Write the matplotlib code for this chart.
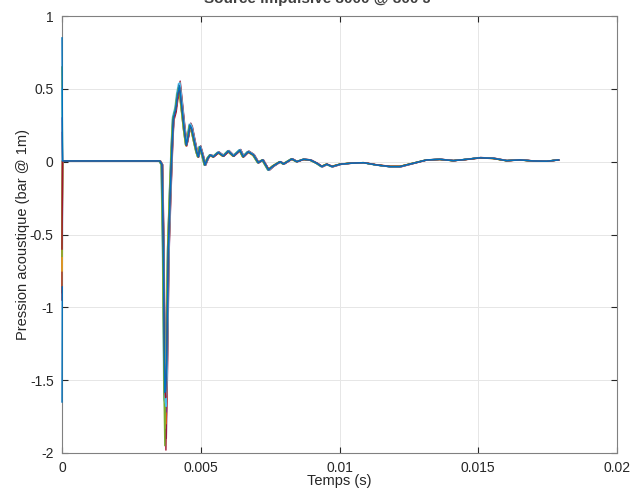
import numpy as np
import matplotlib
matplotlib.use("Agg")
import matplotlib.pyplot as plt

plt.rcParams['font.family'] = ['Liberation Sans', 'DejaVu Sans']

# base waveform (time in ms, pressure in bar @ 1m)
base_t = [0, 0.02, 1.0, 2.0, 3.0, 3.52, 3.60, 3.65, 3.70, 3.73, 3.77, 3.83, 3.90, 3.96,
          4.01, 4.10, 4.16, 4.23, 4.31, 4.40, 4.48, 4.55, 4.61, 4.67, 4.77, 4.85, 4.91,
          4.97, 5.06, 5.15, 5.25, 5.34, 5.45, 5.63, 5.81, 5.99, 6.18, 6.41, 6.53, 6.71,
          6.90, 7.07, 7.23, 7.44, 7.61, 7.86, 7.98, 8.28, 8.46, 8.70, 8.94, 9.18, 9.36,
          9.54, 9.73, 10.02, 10.38, 10.86, 11.34, 11.82, 12.18, 12.66, 13.14, 13.62,
          14.10, 14.58, 15.06, 15.54, 16.02, 16.50, 16.98, 17.46, 17.89]
base_p = [0.0, 0.005, 0.005, 0.005, 0.005, 0.005, -0.02, -0.6, -1.6, -1.8, -1.4, -0.6,
          -0.2, 0.1, 0.298, 0.366, 0.458, 0.527, 0.389, 0.229, 0.115, 0.183, 0.252,
          0.229, 0.137, 0.069, 0.034, 0.103, 0.046, -0.023, 0.023, 0.046, 0.034, 0.064,
          0.039, 0.073, 0.039, 0.080, 0.034, 0.069, 0.046, -0.007, 0.012, -0.057, -0.03,
          0.0, -0.016, 0.019, 0.0, 0.016, 0.012, -0.011, -0.034, -0.018, -0.034, -0.018,
          -0.011, -0.007, -0.023, -0.034, -0.034, -0.011, 0.012, 0.016, 0.007, 0.016,
          0.027, 0.023, 0.007, 0.012, 0.005, 0.003, 0.012]

# per-shot differences (first sample spike, trough depth, gain, small time lag in ms)
spikes = [-0.9, -0.7, 0.2, 0.65, -0.5, -0.95, -1.65, -0.85, -0.75, 0.3, -0.65, 0.5, -0.6, 0.85]
minima = [-1.85, -1.7, -1.9, -1.75, -1.65, -1.98, -1.6, -1.8, -1.83, -1.72, -1.95, -1.68, -1.62, -1.57]
gains = [1.03, 0.94, 1.05, 0.97, 1.02, 0.93, 1.0, 1.04, 0.96, 1.01, 0.98, 1.03, 0.97, 0.99]
lags = [0.02, -0.02, 0.03, 0.0, -0.03, 0.015, -0.01, 0.025, -0.015, 0.01, -0.025, 0.02, 0.005, 0.0]

colors = ['#0072BD', '#D95319', '#EDB120', '#7E2F8E', '#77AC30', '#4DBEEE', '#A2142F']

fig = plt.figure(figsize=(6.35, 4.92), dpi=100)
ax = fig.add_axes([62 / 635, 1 - 453 / 492, 555 / 635, 437 / 492])

for i in range(len(spikes)):
    t = np.array(base_t) + lags[i]
    t[0] = 0.0
    t[1] = 0.02
    p = np.array(base_p) * gains[i]
    p[0] = spikes[i]
    p[9] = minima[i]
    ax.plot(t / 1000, p, color=colors[(i + 1) % 7], lw=1.0, zorder=3, clip_on=False)

ax.set_xlim(0, 0.02)
ax.set_ylim(-2, 1)
ax.set_xticks([0, 0.005, 0.01, 0.015, 0.02])
ax.set_xticklabels(['0', '0.005', '0.01', '0.015', '0.02'])
ax.set_yticks([-2, -1.5, -1, -0.5, 0, 0.5, 1])
ax.set_yticklabels(['-2', '-1.5', '-1', '-0.5', '0', '0.5', '1'])
ax.grid(True, color='#e6e6e6', lw=0.7)
ax.set_axisbelow(True)
ax.tick_params(direction='in', length=4, labelsize=10, colors='#262626',
               top=True, right=True, pad=6)
for s in ax.spines.values():
    s.set_color('#808080')
    s.set_linewidth(0.8)
ax.set_xlabel('Temps (s)', fontsize=10.5, color='#262626', labelpad=-1)
ax.set_ylabel('Pression acoustique (bar @ 1m)', fontsize=10.5, color='#262626', labelpad=0)

fig.text(0.5, 1 - 3 / 492, 'Source impulsive 3000 @ 300 J', ha='center', va='baseline',
         fontsize=11, fontweight='bold', color='#404040')

fig.savefig('out.png', dpi=100)
